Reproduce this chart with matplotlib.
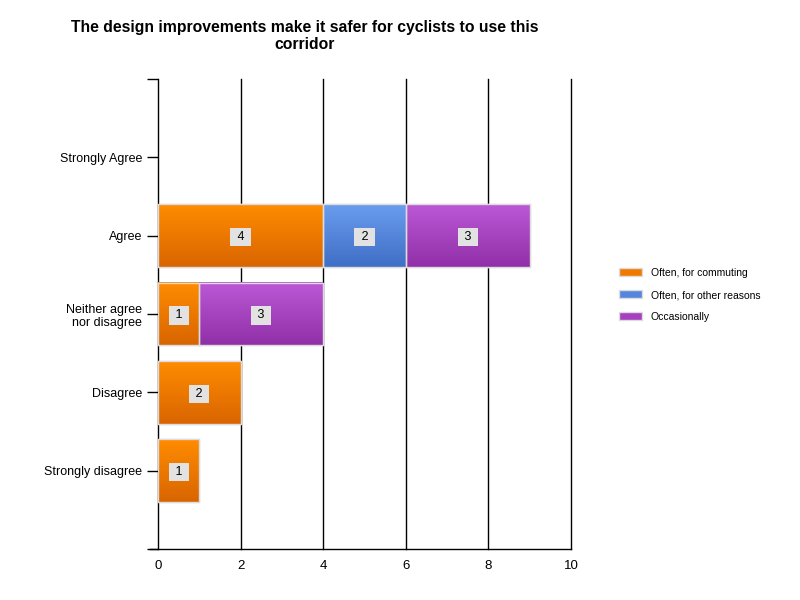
import matplotlib.pyplot as plt
import numpy as np
from matplotlib.colors import LinearSegmentedColormap

plt.rcParams['font.family'] = ['Liberation Sans', 'DejaVu Sans']

# данные: снизу вверх
categories = ['Strongly disagree', 'Disagree', 'Neither agree\nnor disagree', 'Agree', 'Strongly Agree']
series_names = ['Often, for commuting', 'Often, for other reasons', 'Occasionally']
commuting = [1, 2, 1, 4, 0]
other_reasons = [0, 0, 0, 2, 0]
occasionally = [0, 0, 3, 3, 0]
x_ticks = [0, 2, 4, 6, 8, 10]

# цвета: верх / низ градиента
grads = [('#ff8c00', '#d96500'), ('#6a9cee', '#3f6fc6'), ('#bc58d6', '#9030a8')]
flat = ['#f07a00', '#5585dc', '#a640c0']

fig = plt.figure(figsize=(8, 6), dpi=100)
ax = fig.add_axes([158/800, 1-549/600, (571-158)/800, (549-79)/600])

ypos = np.arange(1, len(categories)+1)
left = np.zeros(len(categories))
for vals, name, (top, bot), fc in zip([commuting, other_reasons, occasionally], series_names, grads, flat):
    vals = np.array(vals)
    nz = vals > 0
    bars = ax.barh(ypos[nz], vals[nz], left=left[nz], height=0.8, color=fc, edgecolor='#dcdcdc',
                   linewidth=1, label=name, zorder=3)
    cm = LinearSegmentedColormap.from_list(name, [bot, top])
    for b, v in zip(bars, vals[nz]):
        x0, y0 = b.get_x(), b.get_y()
        w, h = b.get_width(), b.get_height()
        ax.imshow(np.linspace(0, 1, 100).reshape(-1, 1), extent=[x0, x0+w, y0, y0+h],
                  origin='lower', aspect='auto', cmap=cm, zorder=3.5)
        ax.add_patch(plt.Rectangle((x0, y0), w, h, fill=False, edgecolor='#dcdcdc', lw=1, zorder=4))
        ax.text(x0 + w/2, y0 + h/2, ' %d ' % v, ha='center', va='center_baseline', fontsize=9, zorder=5,
                bbox=dict(boxstyle='square,pad=0.25', fc='#e2e2e2', ec='none'))
    left = left + vals

ax.set_xlim(0, 10)
ax.set_ylim(0, 6)
ax.set_xticks(x_ticks)
ax.set_yticks([0] + list(ypos) + [6])
ax.set_yticklabels([''] + categories + [''])
ax.tick_params(axis='y', labelsize=9, length=8, width=1, colors='black')
ax.tick_params(axis='x', labelsize=9.5, length=0, pad=8)
for xv in x_ticks[1:]:
    ax.axvline(xv, color='black', lw=1, zorder=1, clip_on=False)
for s in ['top', 'right']:
    ax.spines[s].set_visible(False)
ax.spines['left'].set_linewidth(1)
ax.spines['bottom'].set_linewidth(1)
ax.spines['bottom'].set_bounds(-0.2, 10)

fig.text(305/800, 1-36/600, 'The design improvements make it safer for cyclists to use this\ncorridor',
         ha='center', va='center', fontsize=11.3, fontweight='bold', linespacing=1.15)

handles, labels = ax.get_legend_handles_labels()
fig.legend(handles, labels, loc='center left', bbox_to_anchor=(610/800, 1-295/600), frameon=False,
           fontsize=7.5, handlelength=2.2, handleheight=0.8, labelspacing=1.15)

plt.savefig('out.png', dpi=100)
